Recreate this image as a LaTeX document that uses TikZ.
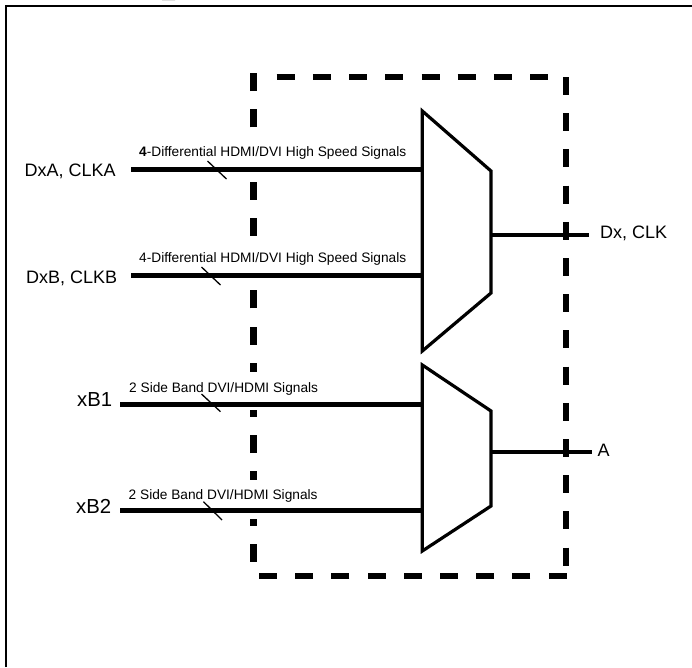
\documentclass[tikz,border=0pt]{standalone}
\usepackage{fontspec}
\setmainfont{Liberation Sans}
\tikzset{
  x=1pt,y=-1pt,
  frameline/.style={line width=2pt,black},
  boxdash/.style={line width=6pt,black,dash pattern=on 18pt off 18.2pt},
  wirein/.style={line width=5pt,black},
  wireout/.style={line width=4pt,black},
  muxshape/.style={line width=3.2pt,black,fill=white,line join=miter,miter limit=10},
  tickmark/.style={line width=1.3pt,black},
  mask/.style={white},
  biglabel/.style={font=\fontsize{18}{20}\selectfont,inner sep=0pt,anchor=base west,text=black},
  hugelabel/.style={font=\fontsize{20.3}{22}\selectfont,inner sep=0pt,anchor=base west,text=black},
  smalllabel/.style={font=\fontsize{13.7}{15}\selectfont,inner sep=0pt,anchor=base west,text=black},
}
\begin{document}
\begin{tikzpicture}
\useasboundingbox (0,0) rectangle (692,667);
\clip (0,0) rectangle (692,667);
% clipped title fragment and sheet frame
\fill[black] (162,0) arc[start angle=180,end angle=360,x radius=6.5,y radius=2.2] -- cycle;
\draw[frameline] (6,667) -- (6,5.5) -- (692,5.5);
% dashed block outline
\draw[boxdash,line width=6.5pt] (253.5,561.7) -- (253.5,73);
\draw[boxdash] (276.7,77) -- (549,77);
\draw[boxdash] (566,77) -- (566,566);
\draw[boxdash] (566.5,575.7) -- (258.5,575.7);
% label backgrounds
\fill[mask] (246,135) rectangle (262,167);
\fill[mask] (246,245) rectangle (262,273);
\fill[mask] (246,372) rectangle (262,410);
\fill[mask] (246,480) rectangle (262,519);
% multiplexers
\coordinate (m1a) at (422.3,111);
\coordinate (m1b) at (491,171);
\coordinate (m1c) at (491,293);
\coordinate (m1d) at (422.3,351);
\coordinate (m2a) at (422.3,365);
\coordinate (m2b) at (491,411);
\coordinate (m2c) at (491,506);
\coordinate (m2d) at (422.3,551);
% wire ends
\coordinate (a1) at (131,169.5);   \coordinate (a2) at (422.3,169.5);
\coordinate (b1) at (131,275.7);   \coordinate (b2) at (422.3,275.7);
\coordinate (c1) at (120,404);     \coordinate (c2) at (422.3,404);
\coordinate (d1) at (120,510.3);   \coordinate (d2) at (422.3,510.3);
\coordinate (o1) at (491,234.5);   \coordinate (o2) at (588.7,234.5);
\coordinate (p1) at (491,452);     \coordinate (p2) at (591.7,452);
\draw[wirein] (a1) -- (a2);
\draw[wirein] (b1) -- (b2);
\draw[wirein] (c1) -- (c2);
\draw[wirein] (d1) -- (d2);
\draw[wireout] (o1) -- (o2);
\draw[wireout] (p1) -- (p2);
\draw[muxshape] (m1a) -- (m1b) -- (m1c) -- (m1d) -- cycle;
\draw[muxshape] (m2a) -- (m2b) -- (m2c) -- (m2d) -- cycle;
% bus labels
\node[smalllabel] (la) at (139,156.7) {\textbf{4}-Differential HDMI/DVI High Speed Signals};
\node[smalllabel] (lb) at (139,262.7) {4-Differential HDMI/DVI High Speed Signals};
\node[smalllabel] (lc) at (129,392) {2 Side Band DVI/HDMI Signals};
\node[smalllabel] (ld) at (128.5,499) {2 Side Band DVI/HDMI Signals};
% bus ticks
\draw[tickmark] (207.5,161) -- (226.5,179);
\draw[tickmark] (201.5,267) -- (220.5,285);
\draw[tickmark] (201.5,394) -- (220.5,411.7);
\draw[tickmark] (203.5,501.7) -- (222,520);
% pin names
\node[biglabel] (na) at (24.5,176.7) {DxA, CLKA};
\node[biglabel] (nb) at (26,283) {DxB, CLKB};
\node[hugelabel] (nc) at (77,406.7) {xB1};
\node[hugelabel] (nd) at (76,513) {xB2};
\node[biglabel] (no) at (600,238.5) {Dx, CLK};
\node[biglabel] (np) at (597.5,456.7) {A};
\end{tikzpicture}
\end{document}
